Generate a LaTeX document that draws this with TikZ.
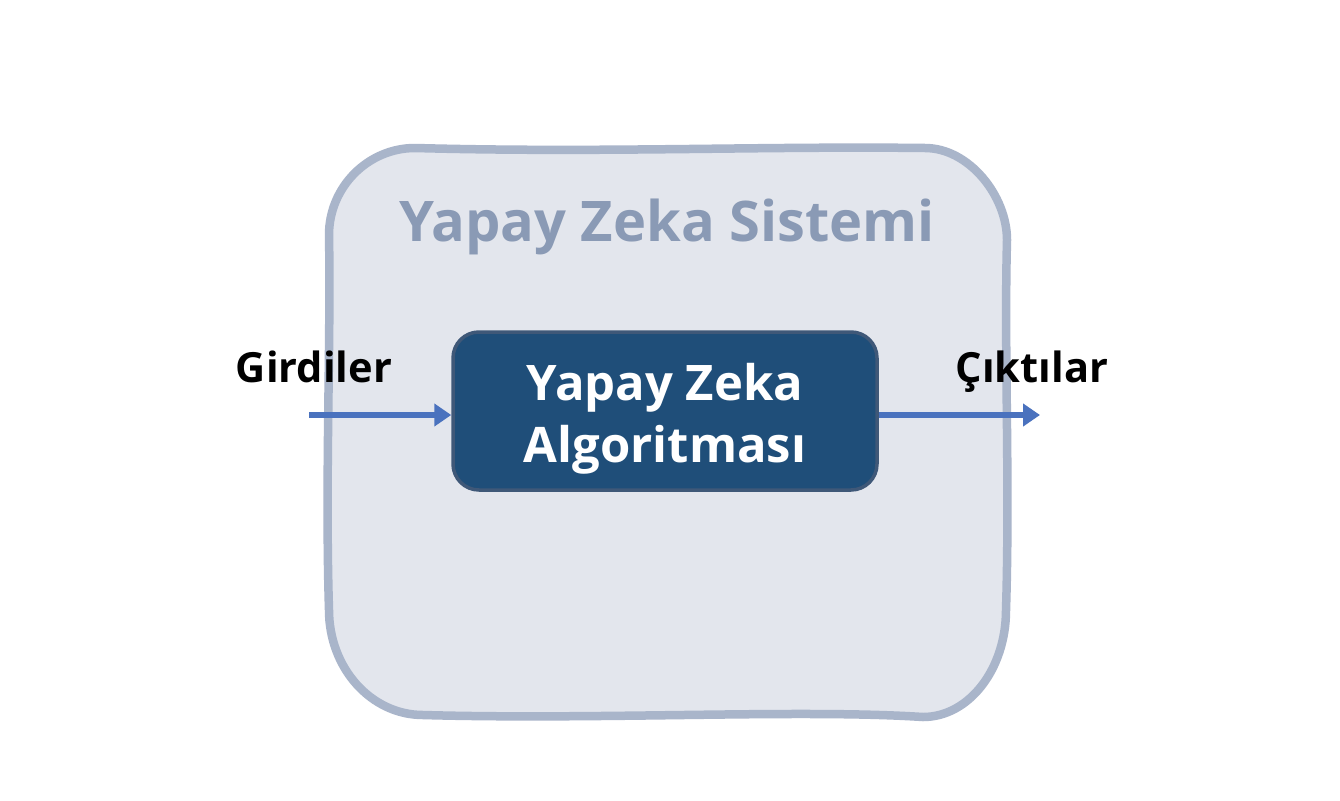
\documentclass[tikz,border=0pt]{standalone}
\usepackage{fontspec}
\setmainfont{Open Sans}
\usetikzlibrary{positioning,arrows.meta}
\definecolor{outerfill}{HTML}{E3E6ED}
\definecolor{outerline}{HTML}{A9B5CA}
\definecolor{titlecol}{HTML}{8A9AB5}
\definecolor{algofill}{HTML}{1F4E79}
\definecolor{algoline}{HTML}{3F5878}
\definecolor{arrowcol}{HTML}{4A72BE}
\tikzset{
  algobox/.style={draw=algoline,line width=3.5pt,fill=algofill,rounded corners=26pt,minimum width=424pt,minimum height=158pt,align=center,text=white,font=\fontsize{49}{62}\selectfont\bfseries},
  iolabel/.style={font=\fontsize{41.6}{46}\selectfont\bfseries,text=black,anchor=base},
  flow/.style={draw=arrowcol,line width=5.5pt,-{Triangle[length=17pt,width=22pt]}}
}
\begin{document}
\begin{tikzpicture}[x=1pt,y=-1pt]
  \useasboundingbox (0,0) rectangle (1340,800);
  \fill[white] (0,0) rectangle (1340,800);
  % system outline
  \draw[outerline,fill=outerfill,line width=8.5pt,line join=round]
    (415,148) .. controls (600,153) and (760,146) .. (925,148)
    .. controls (969,148) and (1007,196) .. (1007,240)
    .. controls (1004,350) and (1010,480) .. (1006,610)
    .. controls (1006,669) and (969,717) .. (923,717)
    .. controls (800,709) and (600,720) .. (423,715)
    .. controls (371,715) and (329,668) .. (329,610)
    .. controls (325,480) and (331,340) .. (329,235)
    .. controls (329,187) and (368,148) .. (415,148) -- cycle;
  \node[font=\fontsize{56}{60}\selectfont\bfseries,text=titlecol] (title) at (667,227) {Yapay Zeka Sistemi};
  \node[algobox] (algo) at (665,411) {\rule{0pt}{52pt}Yapay Zeka\\Algoritması};
  \coordinate (infree) at (309,415);
  \coordinate (outfree) at (1040,415);
  \node[iolabel] (girdi) at (314,382) {Girdiler};
  \node[iolabel] (cikti) at (1032,382) {Çıktılar};
  \draw[flow] (infree) -- (infree -| algo.west);
  \draw[flow] (outfree -| algo.east) -- (outfree);
\end{tikzpicture}
\end{document}
